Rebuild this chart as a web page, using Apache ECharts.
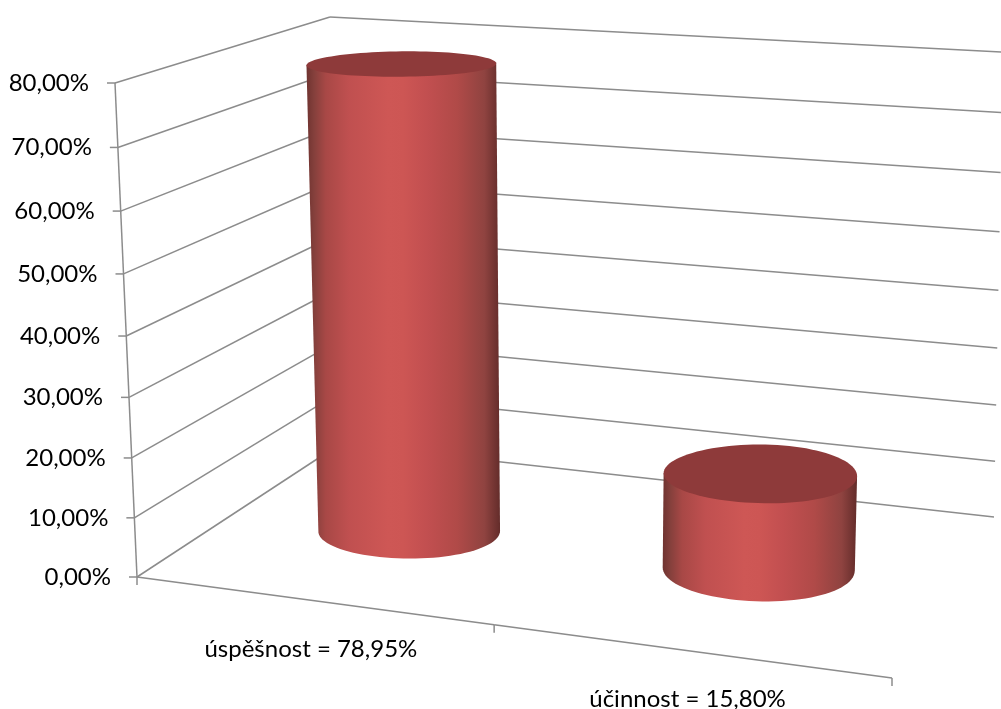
<!DOCTYPE html>
<html>
<head>
<meta charset="utf-8">
<style>html,body{margin:0;padding:0;background:#fff}#chart{width:1001px;height:709px}</style>
<script src="https://cdn.jsdelivr.net/npm/echarts@6/dist/echarts.min.js"></script>
</head>
<body>
<div id="chart"></div>
<script>
// Chart data
const categories = ['úspěšnost = 78,95%', 'účinnost = 15,80%'];
const values = [78.95, 15.80];
const valueTicks = [0, 10, 20, 30, 40, 50, 60, 70, 80];

// Corners of the 3D plot box on the page
const floorFL = [137, 577], floorBL = [340, 444], floorBR = [994, 517], floorFR = [892, 678];
const roofFL = [115, 83], roofBL = [330, 17], roofBR = [1003, 52], roofFR = [919, 113];

// Perspective foreshortening along the width and height of the box
const WIDTH_BEND_FRONT = 1.114, WIDTH_BEND_BACK = 1.02, HEIGHT_BEND = 1.05;
// Cylinder footprints in box units, one entry per category
const widthNudge = [0.003, -0.0065];
const depthCenter = [0.505, 0.54];
const radiusWidth = [0.123, 0.127];
const radiusDepth = [0.185, 0.205];

const GRID_COLOR = '#8c8c8c';
const FONT = 'Lato, Carlito, sans-serif';
const BODY_STOPS = [
  [0, '#6f3330'], [0.04, '#85403c'], [0.1, '#a84846'], [0.22, '#c05050'],
  [0.42, '#ce5755'], [0.5, '#cd5654'], [0.62, '#c24f50'], [0.78, '#b04a48'], [0.92, '#8f4340'], [1, '#632c2a']
];
const TOP_COLOR = '#8e3a3a';

const mix = (a, b, k) => [a[0] + (b[0] - a[0]) * k, a[1] + (b[1] - a[1]) * k];
const bend = (u, r) => u / (u + (1 - u) * r);

// Maps width, depth and height fractions of the box to page pixels
function project(s, d, t) {
  const sb = bend(s, WIDTH_BEND_FRONT + (WIDTH_BEND_BACK - WIDTH_BEND_FRONT) * d);
  const tb = bend(t, HEIGHT_BEND);
  const floor = mix(mix(floorFL, floorFR, sb), mix(floorBL, floorBR, sb), d);
  const roof = mix(mix(roofFL, roofFR, sb), mix(roofBL, roofBR, sb), d);
  return mix(floor, roof, tb);
}

// Reads the axis scales: category index and value become box fractions
function toBox(api, params, cat, val) {
  const c = api.coord([cat, val]);
  const g = params.coordSys;
  return { s: (c[0] - g.x) / g.width, t: (g.y + g.height - c[1]) / g.height, band: api.size([1, 0])[0] / g.width };
}

const lineStyle = { stroke: GRID_COLOR, lineWidth: 1.5, fill: null };
const line = (a, b) => ({ type: 'line', shape: { x1: a[0], y1: a[1], x2: b[0], y2: b[1] }, style: lineStyle, silent: true });

function renderValueTick(params, api) {
  const tick = api.value(1);
  const { t } = toBox(api, params, 0, tick);
  const front = project(0, 0, t), corner = project(0, 1, t), far = project(1, 1, t);
  const children = [
    line(front, corner),
    line(corner, far),
    line([front[0] - 8, front[1]], front),
    {
      type: 'text', silent: true,
      style: {
        x: front[0] - 26, y: front[1], text: tick.toFixed(2).replace('.', ',') + '%',
        align: 'right', verticalAlign: 'middle', fill: '#000', font: '24px ' + FONT
      }
    }
  ];
  // The value axis itself, drawn once from the first tick to the last
  if (tick === valueTicks[0]) {
    const last = toBox(api, params, 0, valueTicks[valueTicks.length - 1]);
    children.push(line(front, project(0, 0, last.t)));
  }
  return { type: 'group', children };
}

function renderFloorEdge(params, api) {
  const i = api.value(0);
  const { s, band } = toBox(api, params, i, 0);
  const left = project(s - band / 2, 0, 0), right = project(s + band / 2, 0, 0), mid = project(s, 0, 0);
  const children = [
    line(left, right),
    line(right, [right[0], right[1] + 8]),
    {
      type: 'text', silent: true,
      style: {
        x: mid[0], y: mid[1] + 49, text: categories[i],
        align: 'center', verticalAlign: 'middle', fill: '#000', font: '24px ' + FONT
      }
    }
  ];
  if (i === 0) children.push(line(left, [left[0], left[1] + 8]));
  return { type: 'group', children };
}

function renderCylinder(params, api) {
  const i = api.value(0);
  const { s, t } = toBox(api, params, i, api.value(1));
  const N = 96;
  const ring = h => {
    const pts = [];
    for (let k = 0; k < N; k++) {
      const a = k / N * Math.PI * 2;
      pts.push(project(s + widthNudge[i] + radiusWidth[i] * Math.cos(a), depthCenter[i] + radiusDepth[i] * Math.sin(a), h));
    }
    return pts;
  };
  const base = ring(0), top = ring(t);
  const extreme = (pts, sign) => pts.reduce((b, p, k) => (sign * p[0] > sign * pts[b][0] ? k : b), 0);
  const iBaseL = extreme(base, -1), iBaseR = extreme(base, 1);
  // Side wall: down the left silhouette, round the near half of the base, up the right silhouette
  const body = [top[extreme(top, -1)]];
  for (let k = iBaseL; ; k = (k + 1) % N) {
    body.push(base[k]);
    if (k === iBaseR) break;
  }
  body.push(top[extreme(top, 1)]);
  return {
    type: 'group',
    children: [
      { type: 'polygon', silent: true, shape: { points: body },
        style: { fill: new echarts.graphic.LinearGradient(0, 0, 1, 0, BODY_STOPS.map(([offset, color]) => ({ offset, color }))) } },
      { type: 'polygon', silent: true, shape: { points: top }, style: { fill: TOP_COLOR } }
    ]
  };
}

const chart = echarts.init(document.getElementById('chart'), null, { renderer: 'canvas' });
chart.setOption({
  animation: false,
  backgroundColor: '#ffffff',
  grid: { left: 0, right: 0, top: 0, bottom: 0 },
  xAxis: { type: 'category', data: categories, show: false },
  yAxis: { type: 'value', min: 0, max: 80, interval: 10, show: false },
  series: [
    { type: 'custom', name: 'osa hodnot', renderItem: renderValueTick, data: valueTicks.map(v => [0, v]), clip: false, silent: true },
    { type: 'custom', name: 'osa kategorií', renderItem: renderFloorEdge, data: categories.map((c, i) => [i, 0]), clip: false, silent: true },
    { type: 'custom', name: 'hodnoty', renderItem: renderCylinder, data: values.map((v, i) => [i, v]), clip: false, silent: true }
  ]
});
</script>
</body>
</html>
